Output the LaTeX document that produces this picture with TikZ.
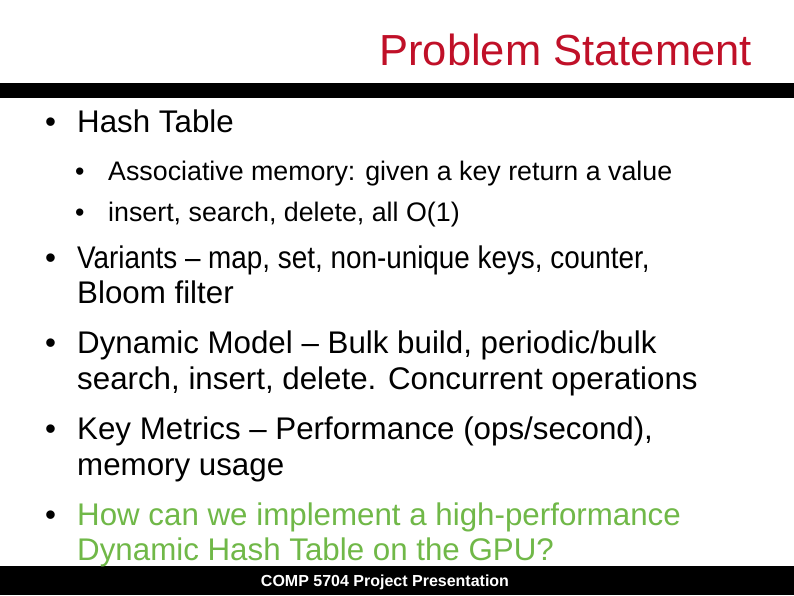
\documentclass[tikz,border=0pt]{standalone}
\usepackage{fontspec}
\setmainfont{Liberation Sans}
\definecolor{titlered}{RGB}{192,16,40}
\definecolor{qgreen}{RGB}{112,184,72}
\begin{document}
\begin{tikzpicture}[x=1pt,y=-1pt,
  every node/.style={inner sep=0pt,anchor=base west},
  big/.style={font=\fontsize{31.3}{36}\selectfont},
  small/.style={font=\fontsize{26.8}{30}\selectfont}]
\useasboundingbox[fill=white] (0,0) rectangle (794,595);
\fill[black] (0,83) rectangle (794,98);
\fill[black] (0,566) rectangle (794,595);
\node[anchor=base east,text=titlered,font=\fontsize{43.5}{48}\selectfont] (title) at (752,65) {Problem Statement};
\node[big] (b1) at (45,132) {•};
\node[big] (t1) at (77,132) {Hash Table};
\node[small] (b11) at (75,180) {•};
\node[small] (t11) at (108,180) {Associative memory: given a key return a value};
\node[small] (b12) at (75,221) {•};
\node[small] (t12) at (108,221) {insert, search, delete, all O(1)};
\node[big] (b2) at (45,268) {•};
\node[big,xscale=0.89,transform shape] (t2a) at (77,268) {Variants – map, set, non-unique keys, counter,};
\node[big] (t2b) at (77,303) {Bloom filter};
\node[big] (b3) at (45,353) {•};
\node[big] (t3a) at (77,353) {Dynamic Model – Bulk build, periodic/bulk};
\node[big] (t3b) at (77,389) {search, insert, delete. Concurrent operations};
\node[big] (b4) at (45,439) {•};
\node[big] (t4a) at (77,439) {Key Metrics – Performance (ops/second),};
\node[big] (t4b) at (77,475) {memory usage};
\node[big] (b5) at (45,525) {•};
\node[big,text=qgreen] (t5a) at (77,525) {How can we implement a high-performance};
\node[big,text=qgreen] (t5b) at (77,560) {Dynamic Hash Table on the GPU?};
\node[anchor=base,text=white,font=\bfseries\fontsize{16}{18}\selectfont] (foot) at (385,586) {COMP 5704 Project Presentation};
\end{tikzpicture}
\end{document}
